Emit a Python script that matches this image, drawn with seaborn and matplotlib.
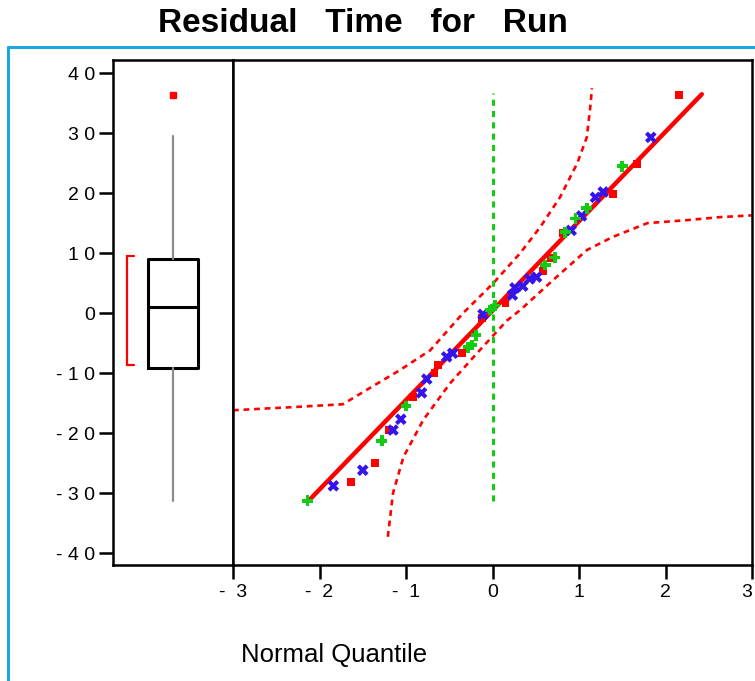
import matplotlib
matplotlib.use("Agg")
import matplotlib.pyplot as plt
from matplotlib.lines import Line2D
import seaborn as sns
import pandas as pd

# normal quantile plot points (quantile, residual)
red_q = [-1.64, -1.36, -1.20, -0.92, -0.67, -0.63, -0.35, -0.12, 0.15, 0.58, 0.68, 0.81, 1.39, 1.67, 2.16]
red_v = [-28.2, -25.0, -19.5, -14.0, -10.0, -8.7, -6.7, -0.8, 1.7, 7.0, 9.2, 13.3, 19.8, 24.8, 36.3]
blue_q = [-1.84, -1.50, -1.15, -1.06, -0.82, -0.76, -0.53, -0.46, -0.11, 0.23, 0.26, 0.35, 0.43, 0.51,
          0.91, 1.03, 1.19, 1.28, 1.83]
blue_v = [-28.8, -26.2, -19.5, -17.7, -13.3, -11.0, -7.3, -6.7, -0.2, 3.0, 4.2, 4.5, 5.7, 6.0,
          13.8, 16.2, 19.3, 20.2, 29.3]
green_q = [-2.14, -1.28, -1.00, -0.28, -0.24, -0.19, -0.03, 0.03, 0.61, 0.72, 0.84, 0.96, 1.09, 1.50]
green_v = [-31.3, -21.3, -15.5, -5.7, -5.3, -3.7, 0.5, 1.3, 8.0, 9.3, 13.5, 15.8, 17.5, 24.5]

# fitted line ends
fit_q = [-2.12, 2.42]
fit_v = [-31.2, 36.5]

# confidence bands
upper_q = [-3.0, -2.34, -1.73, -1.42, -1.07, -0.72, -0.34, 0.01, 0.32, 0.55, 0.78, 0.98, 1.09, 1.13, 1.15]
upper_v = [-16.2, -15.7, -15.2, -12.5, -9.5, -6.2, 0.0, 5.0, 10.0, 14.3, 19.3, 25.0, 29.3, 34.3, 37.5]
lower_q = [-1.21, -1.15, -1.03, -0.80, -0.49, -0.18, 0.17, 0.32, 0.70, 1.09, 1.39, 1.79, 2.25, 2.63, 3.0]
lower_v = [-37.3, -30.0, -24.0, -17.8, -11.7, -6.7, -1.2, 0.5, 5.5, 10.5, 12.7, 15.0, 15.5, 16.0, 16.3]

# reference line at quantile 0
ref_q = [0.0, 0.0]
ref_v = [-31.3, 36.7]

# outlier box plot summary
box_q1, box_med, box_q3 = -9.2, 1.0, 9.0
whisk_lo, whisk_hi = -31.3, 29.5
outliers = [36.3]
mean_ci = [-8.7, 9.6]

y_ticks = [40, 30, 20, 10, 0, -10, -20, -30, -40]
x_ticks = [-3, -2, -1, 0, 1, 2, 3]

RED = "#FF0000"
BLUE = "#3414EC"
GREEN = "#12CC12"

sns.set_style("white")
plt.rcParams["font.family"] = ["Liberation Sans", "DejaVu Sans"]
plt.rcParams["text.color"] = "black"
plt.rcParams["xtick.color"] = "black"
plt.rcParams["ytick.color"] = "black"

fig = plt.figure(figsize=(7.55, 6.81), dpi=100)
W, H = 755, 681


def px_axes(x0, x1, ytop, ybot):
    return fig.add_axes([x0 / W, 1 - ybot / H, (x1 - x0) / W, (ybot - ytop) / H])


ax_box = px_axes(113, 233, 60, 565)
ax = px_axes(233, 752, 60, 565)

ylim = (-42.0, 42.2)

# -------- BOX PANEL --------
stats = [{"q1": box_q1, "med": box_med, "q3": box_q3,
          "whislo": whisk_lo, "whishi": whisk_hi, "fliers": outliers}]
ax_box.bxp(stats, positions=[0.5], widths=0.41, showcaps=False, patch_artist=False,
           boxprops=dict(color="black", linewidth=2.2),
           medianprops=dict(color="black", linewidth=2.2),
           whiskerprops=dict(color="#8C8C8C", linewidth=1.6),
           flierprops=dict(marker="s", markersize=5, markerfacecolor=RED,
                           markeredgecolor=RED, linestyle="none"))
# mean confidence bracket
ax_box.plot([0.175, 0.117, 0.117, 0.175], [mean_ci[0], mean_ci[0], mean_ci[1], mean_ci[1]],
            color=RED, lw=1.6, solid_joinstyle="miter")
ax_box.set_xlim(0, 1)
ax_box.set_ylim(*ylim)
ax_box.set_xticks([])
ax_box.set_yticks(y_ticks)
ax_box.set_yticklabels([" ".join(str(t)) for t in y_ticks], fontsize=14)
ax_box.tick_params(axis="y", direction="out", length=10, width=1.8, pad=3, left=True)

# -------- QUANTILE PANEL --------
pts = pd.DataFrame({
    "q": red_q + blue_q + green_q,
    "v": red_v + blue_v + green_v,
    "grp": ["r"] * len(red_q) + ["b"] * len(blue_q) + ["g"] * len(green_q),
})
ax.plot(upper_q, upper_v, color=RED, lw=1.9, dashes=(2.2, 1.8))
ax.plot(lower_q, lower_v, color=RED, lw=1.9, dashes=(2.2, 1.8))
ax.plot(ref_q, ref_v, color=GREEN, lw=2.2, dashes=(2.0, 1.7))
sns.lineplot(x=fit_q, y=fit_v, color=RED, lw=3.2, ax=ax)
sns.scatterplot(data=pts, x="q", y="v", hue="grp", style="grp", size="grp",
                palette={"r": RED, "b": BLUE, "g": GREEN},
                markers={"r": "s", "b": "X", "g": "P"},
                sizes={"r": 32, "b": 70, "g": 60},
                linewidth=0, legend=False, ax=ax, zorder=3)
ax.set_xlim(-3, 3)
ax.set_ylim(*ylim)
ax.set_yticks([])
ax.set_xticks(x_ticks)
ax.set_xticklabels([f"-  {abs(t)}" if t < 0 else str(t) for t in x_ticks], fontsize=14)
ax.tick_params(axis="x", direction="out", length=10, width=1.8, pad=4, bottom=True)
ax.set_xlabel("")
ax.set_ylabel("")

for a in (ax_box, ax):
    for s in a.spines.values():
        s.set_visible(True)
        s.set_color("black")
        s.set_linewidth(1.8)
ax.get_xticklabels()[-1].set_horizontalalignment("right")

# blue report frame
fig.add_artist(Line2D([8 / W, 1.0], [1 - 47 / H, 1 - 47 / H], color="#1CA6E2", lw=2.2))
fig.add_artist(Line2D([8 / W, 8 / W], [1 - 47 / H, 0.0], color="#1CA6E2", lw=2.2))

fig.text(363 / W, 1 - 23 / H, "Residual   Time   for   Run", ha="center", va="center",
         fontsize=24, fontweight="bold")
fig.text(241 / W, 1 - 655 / H, "Normal Quantile", ha="left", va="center", fontsize=18.5)

fig.savefig("out.png", dpi=100)
